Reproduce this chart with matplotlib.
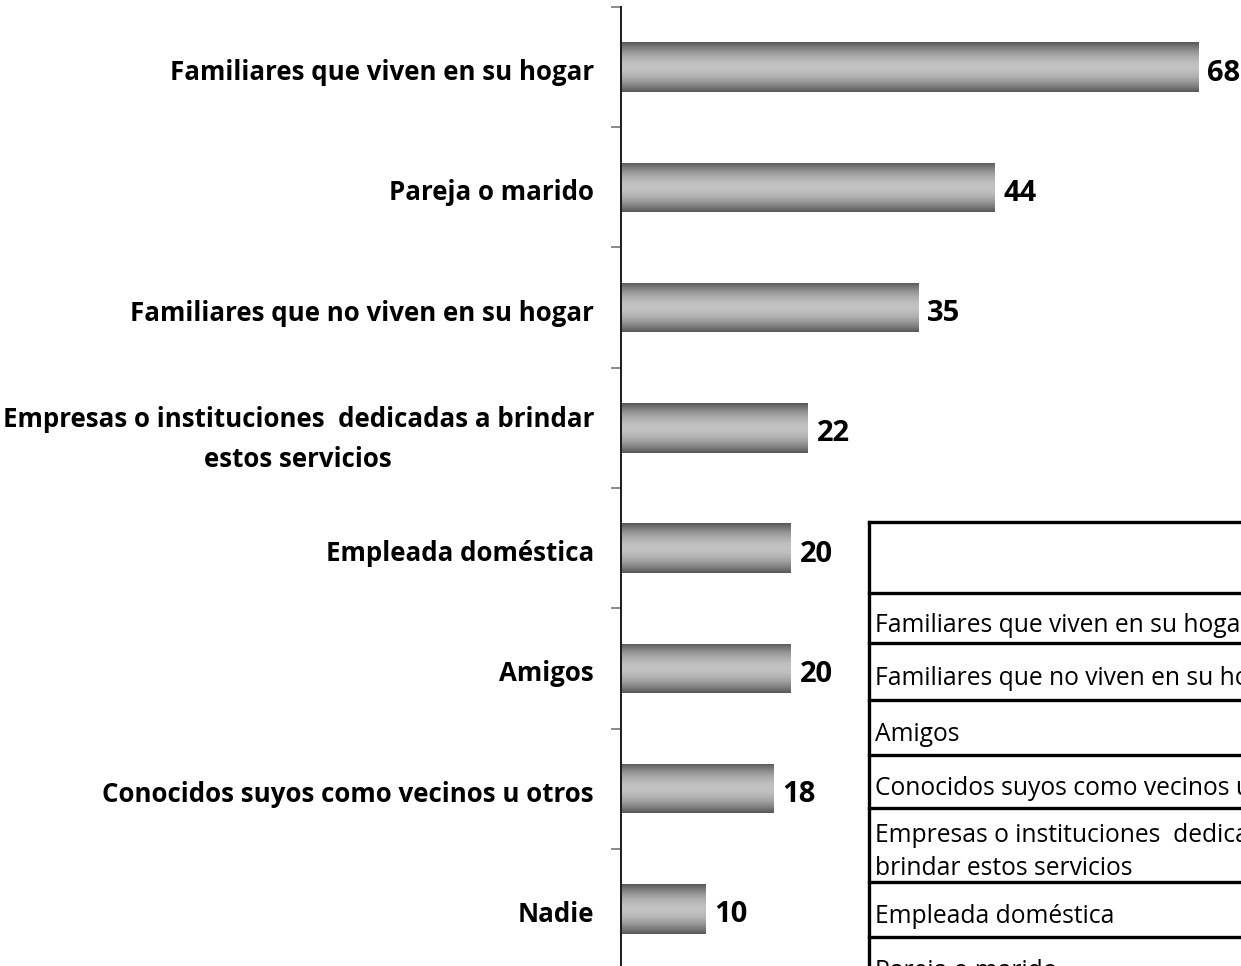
import matplotlib
matplotlib.use("Agg")
import matplotlib.pyplot as plt
import numpy as np
from matplotlib.lines import Line2D

# who helps with household care (percent)
categories = [
    "Familiares que viven en su hogar",
    "Pareja o marido",
    "Familiares que no viven en su hogar",
    "Empresas o instituciones  dedicadas a brindar\nestos servicios",
    "Empleada doméstica",
    "Amigos",
    "Conocidos suyos como vecinos u otros",
    "Nadie",
]
values = [68, 44, 35, 22, 20, 20, 18, 10]

# rows of the side table (header row is empty)
table_rows = [
    "",
    "Familiares que viven en su hogar",
    "Familiares que no viven en su hogar",
    "Amigos",
    "Conocidos suyos como vecinos u otros",
    "Empresas o instituciones  dedicadas a\nbrindar estos servicios",
    "Empleada doméstica",
    "Pareja o marido",
]

FONT = "Open Sans"
W, H = 1241, 966
fig = plt.figure(figsize=(W / 100, H / 100), dpi=100)
fig.patch.set_facecolor("white")

ax_left = 621 / W
ax = fig.add_axes([ax_left, -3 / H, 1 - ax_left, 962 / H])

n = len(categories)
ypos = np.arange(n)
bar_h = 0.41
bars = ax.barh(ypos, values, height=bar_h, color="none", edgecolor="none")

# cylinder-like shading: dark at top/bottom edges, light in the middle
t = np.linspace(0, 1, 200)
edge, mid = 0x56 / 255, 0xc2 / 255
shade = mid - (mid - edge) * np.abs(2 * t - 1) ** 1.8
grad = np.repeat(shade[:, None], 2, axis=1)
for bar in bars:
    x0, y0 = bar.get_x(), bar.get_y()
    w, h = bar.get_width(), bar.get_height()
    im = ax.imshow(grad, extent=[x0, x0 + w, y0 + h, y0], aspect="auto",
                   cmap="gray", vmin=0, vmax=1, interpolation="bilinear",
                   zorder=2)
    im.set_clip_path(bar)

for y, v in zip(ypos, values):
    ax.text(v + 1.0, y + 0.05, f"{v}", va="center", ha="left",
            fontsize=21, fontweight="bold", family=FONT, color="black")

ax.set_xlim(0, (W - ax_left * W) / 8.5)
ax.set_ylim(n - 0.5, -0.5)

# ticks sit between categories, labels on the categories
ax.set_yticks(np.arange(n + 1) - 0.5)
ax.set_yticklabels([])
ax.tick_params(axis="y", which="major", direction="out", length=7.5,
               width=1.3, color="#808080")
ax.set_yticks(ypos + 0.02, minor=True)
ax.set_yticklabels(categories, minor=True, fontsize=18.6, fontweight="bold",
                   family=FONT)
ax.tick_params(axis="y", which="minor", length=0, pad=19.5)
for lbl in ax.get_yticklabels(minor=True):
    lbl.set_multialignment("center")
    lbl.set_linespacing(1.6)

ax.set_xticks([])
for side in ["top", "right", "bottom"]:
    ax.spines[side].set_visible(False)
ax.spines["left"].set_linewidth(1.4)
ax.spines["left"].set_color("#1a1a1a")

# side table drawn in pixel coordinates over the chart
tab = fig.add_axes([0, 0, 1, 1], zorder=5)
tab.set_xlim(0, W)
tab.set_ylim(H, 0)
tab.axis("off")
tab.patch.set_alpha(0)

tab_x = 869
row_edges = [522, 593, 643, 700, 755, 808, 882, 937, 992]
tab.add_patch(plt.Rectangle((tab_x, row_edges[0]), W, H, facecolor="white",
                            edgecolor="none", zorder=1))
for yb in row_edges:
    tab.add_line(Line2D([tab_x, W + 10], [yb, yb], color="black", lw=2.4,
                        zorder=3))
tab.add_line(Line2D([tab_x, tab_x], [row_edges[0], H + 10], color="black",
                    lw=2.4, zorder=3))
for txt, top, bot in zip(table_rows, row_edges[:-1], row_edges[1:]):
    if not txt:
        continue
    tab.text(tab_x + 6, (top + bot) / 2 + 7, txt, ha="left", va="center",
             fontsize=17.7, family=FONT, color="black",
             linespacing=1.45, zorder=4)

fig.savefig("out.png", dpi=100, facecolor="white")
